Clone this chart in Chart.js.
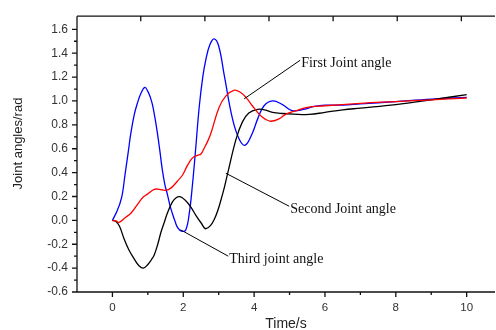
<!DOCTYPE html>
<html>
<head>
<meta charset="utf-8">
<script src="https://cdn.jsdelivr.net/npm/chart.js@4.4.1/dist/chart.umd.min.js"></script>
<style>
  html, body { margin: 0; padding: 0; background: #fff; }
  #wrap { width: 496px; height: 330px; }
</style>
</head>
<body>
<div id="wrap"><canvas id="grafico" width="496" height="330"></canvas></div>
<script>
// tiempos (s) y angulos (rad) de cada articulacion
const firstT = [0, 0.1, 0.19, 0.35, 0.52, 0.7, 0.85, 0.99, 1.18, 1.32, 1.51, 1.65, 1.84, 1.98, 2.1, 2.2, 2.29, 2.4, 2.5, 2.6, 2.7, 2.78, 3.01, 3.2, 3.44, 3.6, 3.77, 3.95, 4.14, 4.3, 4.47, 4.7, 4.9, 5.2, 5.46, 6, 7, 8, 9, 10];
const firstY = [0, -0.005, -0.016, 0.02, 0.06, 0.13, 0.19, 0.22, 0.26, 0.26, 0.252, 0.27, 0.33, 0.38, 0.45, 0.5, 0.53, 0.545, 0.556, 0.61, 0.67, 0.73, 0.945, 1.04, 1.09, 1.075, 1.03, 0.96, 0.89, 0.85, 0.83, 0.85, 0.89, 0.92, 0.945, 0.96, 0.98, 0.995, 1.01, 1.025];

const secondT = [0, 0.1, 0.2, 0.33, 0.47, 0.61, 0.75, 0.88, 1.0, 1.1, 1.18, 1.28, 1.37, 1.46, 1.55, 1.69, 1.8, 1.91, 2.05, 2.21, 2.36, 2.5, 2.64, 2.87, 3.11, 3.25, 3.49, 3.67, 3.85, 4.1, 4.3, 4.52, 4.8, 5.1, 5.56, 6, 6.5, 7, 8, 9, 10];
const secondY = [0, -0.01, -0.05, -0.156, -0.25, -0.32, -0.38, -0.4, -0.37, -0.33, -0.29, -0.2, -0.1, -0.02, 0.06, 0.153, 0.19, 0.198, 0.17, 0.113, 0.04, -0.02, -0.07, 0.005, 0.22, 0.39, 0.68, 0.825, 0.9, 0.93, 0.925, 0.905, 0.895, 0.89, 0.887, 0.905, 0.925, 0.94, 0.97, 1.01, 1.053];

const thirdT = [0, 0.07, 0.14, 0.21, 0.28, 0.35, 0.45, 0.52, 0.62, 0.71, 0.8, 0.915, 1.0, 1.07, 1.13, 1.2, 1.27, 1.34, 1.41, 1.48, 1.55, 1.62, 1.69, 1.77, 1.84, 1.95, 2.07, 2.17, 2.26, 2.35, 2.45, 2.55, 2.64, 2.75, 2.87, 3.0, 3.16, 3.39, 3.58, 3.75, 3.95, 4.1, 4.28, 4.52, 4.8, 5.07, 5.4, 5.7, 6.0, 6.5, 7, 8, 9, 10];
const thirdY = [0, 0.04, 0.085, 0.14, 0.22, 0.37, 0.58, 0.73, 0.89, 0.986, 1.06, 1.113, 1.08, 1.03, 0.97, 0.86, 0.73, 0.58, 0.42, 0.3, 0.22, 0.13, 0.06, -0.01, -0.06, -0.09, -0.08, 0.06, 0.3, 0.6, 0.95, 1.2, 1.35, 1.47, 1.52, 1.46, 1.21, 0.85, 0.68, 0.63, 0.73, 0.85, 0.96, 1.0, 0.97, 0.92, 0.93, 0.955, 0.965, 0.965, 0.975, 0.995, 1.015, 1.03];

// marcas de los ejes
const xTicks = [0, 2, 4, 6, 8, 10];
const xMinor = [1, 3, 5, 7, 9];
const yTicks = [-0.6, -0.4, -0.2, 0, 0.2, 0.4, 0.6, 0.8, 1.0, 1.2, 1.4, 1.6];
const yMinor = [-0.5, -0.3, -0.1, 0.1, 0.3, 0.5, 0.7, 0.9, 1.1, 1.3, 1.5];
const topTicks = [0.8, 2.61, 4.42, 6.23, 8.04, 9.85];

const xTitulo = 'Time/s';
const yTitulo = 'Joint angles/rad';

// etiquetas con linea guia: [texto, x0, y0, x1, y1]
const etiquetas = [
    ['First Joint angle', 3.72, 1.018, 5.30, 1.341],
    ['Second Joint angle', 3.20, 0.395, 4.99, 0.118],
    ['Third joint angle', 1.93, -0.08, 3.27, -0.30]
];

function puntos(t, y) {
    return t.map((v, i) => ({ x: v, y: y[i] }));
}

const ejesYTextos = {
    id: 'ejesYTextos',
    afterDraw(chart) {
        const ctx = chart.ctx;
        const a = chart.chartArea;
        const sx = chart.scales.x;
        const sy = chart.scales.y;
        ctx.save();
        ctx.strokeStyle = '#111';
        ctx.lineWidth = 1.3;

        ctx.beginPath();
        // marco: izquierda, abajo, arriba
        ctx.moveTo(a.left, a.top); ctx.lineTo(a.left, a.bottom);
        ctx.moveTo(a.left, a.bottom); ctx.lineTo(a.right, a.bottom);
        ctx.moveTo(a.left, a.top); ctx.lineTo(a.right, a.top);
        xTicks.forEach(v => {
            const px = sx.getPixelForValue(v);
            ctx.moveTo(px, a.bottom); ctx.lineTo(px, a.bottom + 5);
        });
        xMinor.forEach(v => {
            const px = sx.getPixelForValue(v);
            ctx.moveTo(px, a.bottom); ctx.lineTo(px, a.bottom + 3);
        });
        topTicks.forEach(v => {
            const px = sx.getPixelForValue(v);
            ctx.moveTo(px, a.top); ctx.lineTo(px, a.top + 5);
        });
        yTicks.forEach(v => {
            const py = sy.getPixelForValue(v);
            ctx.moveTo(a.left - 5, py); ctx.lineTo(a.left, py);
        });
        yMinor.forEach(v => {
            const py = sy.getPixelForValue(v);
            ctx.moveTo(a.left - 3, py); ctx.lineTo(a.left, py);
        });
        ctx.stroke();

        // titulos de ejes
        ctx.fillStyle = '#222';
        ctx.font = '14px "Liberation Sans", Arial, sans-serif';
        ctx.textAlign = 'center';
        ctx.textBaseline = 'alphabetic';
        ctx.fillText(xTitulo, (a.left + a.right) / 2, 328);
        ctx.save();
        ctx.translate(22, 143.5);
        ctx.rotate(-Math.PI / 2);
        ctx.font = '13px "Liberation Sans", Arial, sans-serif';
        ctx.fillText(yTitulo, 0, 0);
        ctx.restore();

        // etiquetas de cada curva
        ctx.strokeStyle = '#000';
        ctx.lineWidth = 1;
        ctx.fillStyle = '#111';
        ctx.font = '14px "Liberation Serif", "Times New Roman", serif';
        ctx.textAlign = 'left';
        ctx.textBaseline = 'middle';
        etiquetas.forEach(([texto, x0, y0, x1, y1]) => {
            const p0x = sx.getPixelForValue(x0), p0y = sy.getPixelForValue(y0);
            const p1x = sx.getPixelForValue(x1), p1y = sy.getPixelForValue(y1);
            ctx.beginPath();
            ctx.moveTo(p0x, p0y);
            ctx.lineTo(p1x, p1y);
            ctx.stroke();
            ctx.fillText(texto, p1x + 1, p1y + 3);
        });
        ctx.restore();
    }
};

const estiloLinea = {
    borderWidth: 1.3,
    pointRadius: 0,
    fill: false,
    tension: 0.4
};

new Chart(document.getElementById('grafico').getContext('2d'), {
    type: 'line',
    data: {
        datasets: [
            Object.assign({ label: 'First Joint angle', data: puntos(firstT, firstY), borderColor: '#ff0000' }, estiloLinea),
            Object.assign({ label: 'Second Joint angle', data: puntos(secondT, secondY), borderColor: '#000000' }, estiloLinea),
            Object.assign({ label: 'Third joint angle', data: puntos(thirdT, thirdY), borderColor: '#0000ff' }, estiloLinea)
        ]
    },
    options: {
        responsive: false,
        devicePixelRatio: 1,
        animation: false,
        layout: { padding: { top: 6, right: 1, left: 0, bottom: 0 } },
        plugins: { legend: { display: false }, tooltip: { enabled: false } },
        scales: {
            x: {
                type: 'linear',
                min: -1,
                max: 10.8,
                afterBuildTicks: s => { s.ticks = xTicks.map(v => ({ value: v })); },
                afterFit: s => { s.height = 38; },
                grid: { display: false, drawTicks: false },
                border: { display: false },
                ticks: {
                    autoSkip: false,
                    maxRotation: 0,
                    padding: 9,
                    color: '#333',
                    font: { family: '"Liberation Sans", Arial, sans-serif', size: 11.5 },
                    callback: v => String(v)
                }
            },
            y: {
                type: 'linear',
                min: -0.6,
                max: 1.71,
                afterBuildTicks: s => { s.ticks = yTicks.map(v => ({ value: v })); },
                afterFit: s => { s.width = 77; },
                grid: { display: false, drawTicks: false },
                border: { display: false },
                ticks: {
                    autoSkip: false,
                    padding: 9,
                    color: '#333',
                    font: { family: '"Liberation Sans", Arial, sans-serif', size: 12 },
                    callback: v => Number(v).toFixed(1)
                }
            }
        }
    },
    plugins: [ejesYTextos]
});
</script>
</body>
</html>
